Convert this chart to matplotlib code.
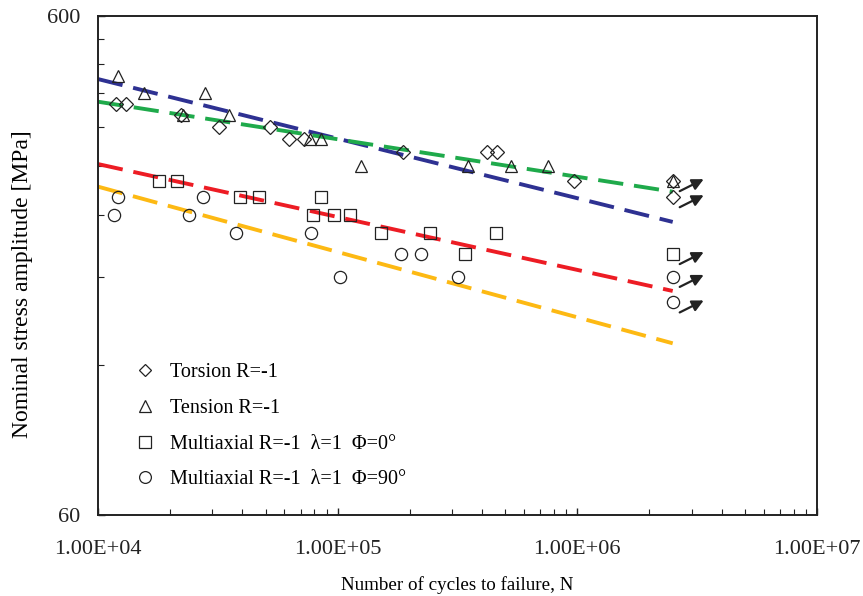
import matplotlib
matplotlib.use('Agg')
import matplotlib.pyplot as plt
from matplotlib.ticker import FixedLocator, FixedFormatter, LogLocator, NullFormatter
from matplotlib.transforms import offset_copy
from matplotlib.lines import Line2D

plt.rcParams['font.family'] = ['Liberation Serif', 'DejaVu Serif']

# test data (N = cycles to failure, S = nominal stress amplitude [MPa])
torsion_N = [1.19e4, 1.31e4, 2.22e4, 3.2e4, 5.22e4, 6.26e4, 7.24e4, 1.87e5,
             4.18e5, 4.62e5, 9.68e5, 2.5e6, 2.5e6]
torsion_S = [400, 400, 380, 360, 360, 340, 340, 320, 320, 320, 280, 280, 260]

tension_N = [1.21e4, 1.555e4, 2.26e4, 2.795e4, 3.52e4, 7.7e4, 8.52e4, 1.25e5,
             3.5e5, 5.28e5, 7.54e5, 2.5e6]
tension_S = [455, 420, 380, 420, 380, 340, 340, 300, 300, 300, 300, 280]

multi0_N = [1.8e4, 2.14e4, 3.92e4, 4.7e4, 7.89e4, 8.52e4, 9.65e4, 1.126e5,
            1.516e5, 2.43e5, 3.4e5, 4.58e5, 2.5e6]
multi0_S = [280, 280, 260, 260, 240, 260, 240, 240, 220, 220, 200, 220, 200]

multi90_N = [1.166e4, 1.215e4, 2.4e4, 2.75e4, 3.76e4, 7.74e4, 1.022e5, 1.837e5,
             2.22e5, 3.18e5, 2.5e6, 2.5e6]
multi90_S = [240, 260, 240, 260, 220, 220, 180, 200, 200, 180, 180, 160]

# run-outs (arrows)
runout_N = [2.5e6, 2.5e6, 2.5e6, 2.5e6, 2.5e6]
runout_S = [280, 260, 200, 180, 160]

# fitted S-N lines, value at the two ends
fit_N = [1e4, 2.5e6]
fit_tension = [448.5, 232]
fit_torsion = [404, 266.7]
fit_multi0 = [303, 168.7]
fit_multi90 = [273, 132.5]

labels = ['Torsion R=-1', 'Tension R=-1',
          'Multiaxial R=-1  \u03bb=1  \u03a6=0\u00b0',
          'Multiaxial R=-1  \u03bb=1  \u03a6=90\u00b0']

fig = plt.figure(figsize=(8.63, 5.96), dpi=100)
ax = fig.add_axes([98 / 863, 81 / 596, 719 / 863, 499 / 596])
ax.set_xscale('log')
ax.set_yscale('log')
ax.set_xlim(1e4, 1e7)
ax.set_ylim(60, 600)

dash = dict(lw=2.8, dashes=(6.5, 2.8), zorder=2)
ax.plot(fit_N, fit_tension, color='#2E3192', **dash)
ax.plot(fit_N, fit_torsion, color='#1FAA4B', **dash)
ax.plot(fit_N, fit_multi0, color='#ED1C24', **dash)
ax.plot(fit_N, fit_multi90, color='#FDB913', **dash)

mk = dict(ls='none', mfc='none', mec='#222222', mew=0.9, zorder=3)
ax.plot(torsion_N, torsion_S, marker='D', ms=6.8, **mk)
ax.plot(tension_N, tension_S, marker='^', ms=9.0, **mk)
ax.plot(multi0_N, multi0_S, marker='s', ms=9.0, **mk)
ax.plot(multi90_N, multi90_S, marker='o', ms=8.8, **mk)

for n, s in zip(runout_N, runout_S):
    tip = offset_copy(ax.transData, fig=fig, x=31, y=2, units='dots')
    ax.annotate('', xy=(n, s), xycoords=tip,
                xytext=(-24, -12), textcoords='offset pixels',
                arrowprops=dict(arrowstyle='-|>', color='#222222', lw=1.6,
                                mutation_scale=17, shrinkA=0, shrinkB=0))

handles = [Line2D([], [], marker=m, ms=sz, **mk) for m, sz in
           [('D', 6.0), ('^', 8.5), ('s', 8.5), ('o', 8.5)]]
ax.legend(handles, labels, loc='upper left', bbox_to_anchor=(0.051, 0.304),
          frameon=False, fontsize=14.5, handlelength=1.0, handletextpad=0.75,
          labelspacing=0.82, borderpad=0, borderaxespad=0)

ax.xaxis.set_major_locator(FixedLocator([1e4, 1e5, 1e6, 1e7]))
ax.xaxis.set_major_formatter(FixedFormatter(['1.00E+04', '1.00E+05', '1.00E+06', '1.00E+07']))
ax.xaxis.set_minor_locator(LogLocator(base=10, subs=range(2, 10)))
ax.xaxis.set_minor_formatter(NullFormatter())
ax.yaxis.set_major_locator(FixedLocator([60, 600]))
ax.yaxis.set_major_formatter(FixedFormatter(['60', '600']))
ax.yaxis.set_minor_locator(FixedLocator(list(range(120, 541, 60))))
ax.yaxis.set_minor_formatter(NullFormatter())

ax.tick_params(which='both', direction='in', colors='#222222', labelsize=16)
ax.tick_params(which='major', length=5, width=1)
ax.tick_params(which='minor', length=4.5, width=0.8)
ax.tick_params(axis='x', which='major', pad=18)
ax.tick_params(axis='y', which='major', pad=13)
for sp in ax.spines.values():
    sp.set_linewidth(1.4)
    sp.set_color('#222222')

ax.set_xlabel('Number of cycles to failure, N', fontsize=13.7, labelpad=12)
ax.set_ylabel('Nominal stress amplitude [MPa]', fontsize=17, labelpad=10)
ax.yaxis.label.set_y(0.462)

fig.savefig('out.png', dpi=100)
